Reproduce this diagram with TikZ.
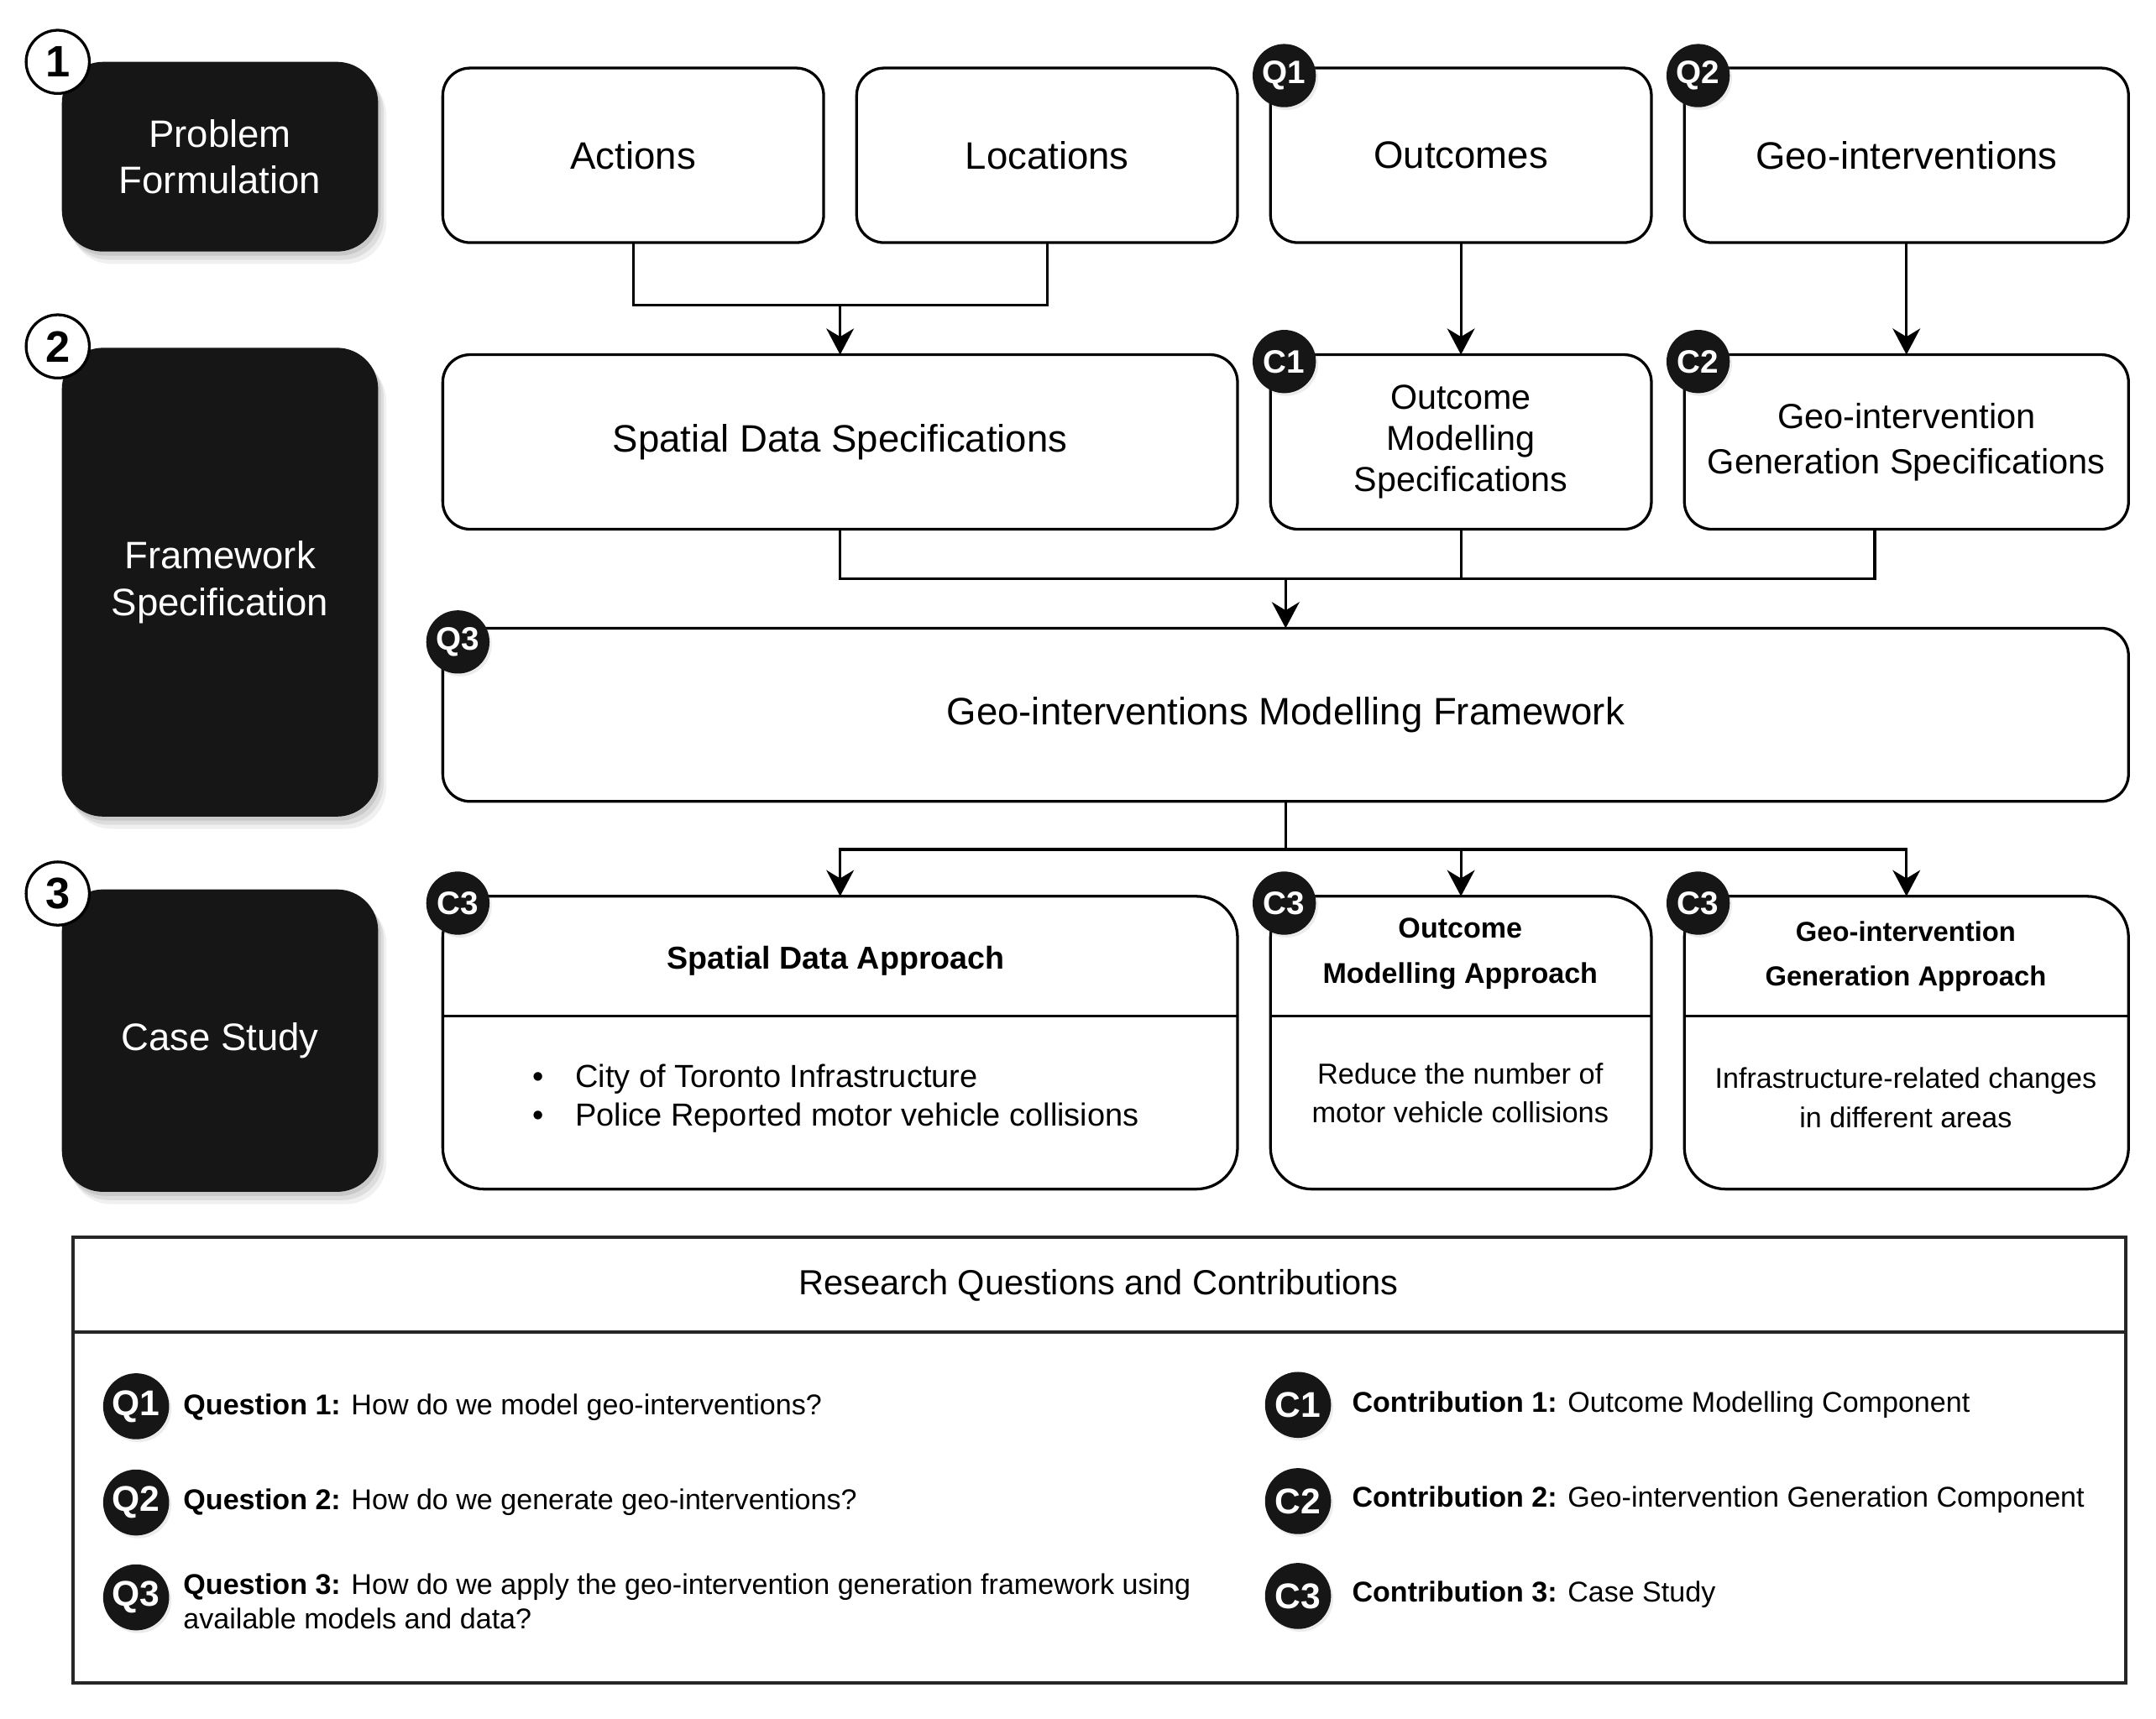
\documentclass[tikz,border=0pt]{standalone}
\usepackage{fontspec}
\setmainfont{Liberation Sans}
\usetikzlibrary{arrows.meta,shadows}
\definecolor{boxblack}{HTML}{161616}
\begin{document}
\begin{tikzpicture}[x=0.5pt,y=-0.5pt,
  wbox/.style={draw=black, line width=1pt, rounded corners=10pt, fill=white, inner sep=0pt, outer sep=0pt, align=center, font=\fontsize{13.9}{17}\selectfont},
  cbox/.style={wbox, rounded corners=15pt},
  bbox/.style={fill=boxblack, rounded corners=15pt, text=white, inner sep=0pt, outer sep=0pt, align=center, font=\fontsize{13.9}{17}\selectfont,
    drop shadow={shadow xshift=1pt, shadow yshift=-1.5pt, opacity=0.09, fill=black},
    drop shadow={shadow xshift=2pt, shadow yshift=-3pt, opacity=0.08, fill=black},
    drop shadow={shadow xshift=3pt, shadow yshift=-4.5pt, opacity=0.06, fill=black}},
  numc/.style={circle, draw=black, line width=1pt, fill=white, minimum size=23pt, inner sep=0pt, font=\bfseries\fontsize{16}{16}\selectfont},
  badge/.style={circle, fill=boxblack, text=white, minimum size=23pt, inner sep=0pt, font=\bfseries\fontsize{11.8}{12}\selectfont, drop shadow={shadow xshift=0.8pt, shadow yshift=-1pt, opacity=0.15}},
  lbadge/.style={badge, minimum size=24pt, font=\bfseries\fontsize{13}{13}\selectfont},
  conn/.style={draw=black, line width=1pt},
  arr/.style={conn, -{Stealth[length=9.5pt, width=10pt, inset=3pt]}},
  legtxt/.style={anchor=west, inner sep=0pt, align=left, font=\fontsize{10.4}{12.5}\selectfont},
]
\useasboundingbox (0,0) rectangle (1568,1250.4);

% left black column
\node[bbox, minimum width=115pt, minimum height=69pt] (pf) at (160,114) {Problem\\Formulation};
\node[bbox, minimum width=115pt, minimum height=170.5pt] (fs) at (160,423.5) {Framework\\Specification};
\node[bbox, minimum width=115pt, minimum height=110pt] (cs) at (160,757) {Case Study};
\node[numc] (n1) at (42,45) {1};
\node[numc] (n2) at (42,252) {2};
\node[numc] (n3) at (42,650) {3};

% top row
\node[wbox, minimum width=138.5pt, minimum height=63.5pt] (act) at (460.5,113) {Actions};
\node[wbox, minimum width=138.5pt, minimum height=63.5pt] (loc) at (761.5,113) {Locations};
\node[wbox, minimum width=138.5pt, minimum height=63.5pt] (out) at (1062.5,113) {Outcomes};
\node[wbox, minimum width=161.5pt, minimum height=63.5pt] (geo) at (1386.5,113) {Geo-interventions};

% second row
\node[wbox, minimum width=289pt, minimum height=63.5pt] (sds) at (611,321.5) {Spatial Data Specifications};
\node[wbox, minimum width=138.5pt, minimum height=63.5pt, font=\fontsize{12.6}{15}\selectfont] (oms) at (1062.5,321.5) {Outcome\\Modelling\\Specifications};
\node[wbox, minimum width=161.5pt, minimum height=63.5pt, font=\fontsize{12.7}{16.5}\selectfont] (ggs) at (1386.5,321.5) {Geo-intervention\\Generation Specifications};

% framework
\node[wbox, minimum width=613pt, minimum height=63pt] (fw) at (935,520) {Geo-interventions Modelling Framework};

% third row
\node[cbox, minimum width=289pt, minimum height=106.5pt] (sda) at (611,758.5) {};
\node[cbox, minimum width=138.5pt, minimum height=106.5pt] (oma) at (1062.5,758.5) {};
\node[cbox, minimum width=161.5pt, minimum height=106.5pt] (gga) at (1386.5,758.5) {};
\coordinate (d1) at (0,739);
\draw[conn] (sda.west |- d1) -- (sda.east |- d1);
\draw[conn] (oma.west |- d1) -- (oma.east |- d1);
\draw[conn] (gga.west |- d1) -- (gga.east |- d1);
\node[font=\bfseries\fontsize{11.5}{14}\selectfont, inner sep=0pt] (sdah) at (608,699) {Spatial Data Approach};
\node[inner sep=0pt, align=left, anchor=west, font=\fontsize{11.6}{14}\selectfont] (sdab) at (387,799) {\makebox[15.5pt][l]{•}City of Toronto Infrastructure\\\makebox[15.5pt][l]{•}Police Reported motor vehicle collisions};
\node[font=\bfseries\fontsize{10.4}{16.5}\selectfont, inner sep=0pt, align=center] (omah) at (1062,693.5) {Outcome\\Modelling Approach};
\node[font=\fontsize{10.5}{14}\selectfont, inner sep=0pt, align=center] (omab) at (1062,795) {Reduce the number of\\motor vehicle collisions};
\node[font=\bfseries\fontsize{10}{16.2}\selectfont, inner sep=0pt, align=center] (ggah) at (1386,696) {Geo-intervention\\Generation Approach};
\node[font=\fontsize{10.4}{14.5}\selectfont, inner sep=0pt, align=center] (ggab) at (1386,798.5) {Infrastructure-related changes\\in different areas};

% connectors
\coordinate (j1) at (611,222);
\draw[conn] (act.south) |- (j1) -| (loc.south);
\draw[arr] (j1) -- (sds.north);
\draw[arr] (out.south) -- (oms.north);
\draw[arr] (geo.south) -- (ggs.north);
\coordinate (j2) at (935,421);
\draw[conn] (sds.south) |- (j2);
\draw[conn] (oms.south) |- (j2);
\draw[conn] ([xshift=-11.5pt]ggs.south) |- (j2);
\draw[arr] (j2) -- (fw.north);
\coordinate (j3) at (935,618);
\draw[conn] (fw.south) -- (j3);
\draw[arr] (j3) -| (sda.north);
\draw[arr] (j3) -| (oma.north);
\draw[arr] (j3) -| (gga.north);

% badges
\node[badge] (bq1) at (934,55) {Q1};
\node[badge] (bq2) at (1235,55) {Q2};
\node[badge] (bc1) at (934,263) {C1};
\node[badge] (bc2) at (1235,263) {C2};
\node[badge] (bq3) at (333,467) {Q3};
\node[badge] (bc3a) at (333,657) {C3};
\node[badge] (bc3b) at (934,657) {C3};
\node[badge] (bc3c) at (1235,657) {C3};

% legend box
\node[draw=black!85, line width=1.2pt, fill=white, minimum width=746.5pt, minimum height=162pt, inner sep=0pt, outer sep=0pt] (leg) at (799.5,1062) {};
\coordinate (d4) at (0,969);
\draw[draw=black!85, line width=1.2pt] (leg.west |- d4) -- (leg.east |- d4);
\node[font=\fontsize{12.7}{15}\selectfont, inner sep=0pt] (legt) at (799,935) {Research Questions and Contributions};

\node[lbadge] (lq1) at (99,1023) {Q1};
\node[lbadge] (lq2) at (99,1093) {Q2};
\node[lbadge] (lq3) at (99,1162) {Q3};
\node[lbadge] (lc1) at (944,1022) {C1};
\node[lbadge] (lc2) at (944,1092) {C2};
\node[lbadge] (lc3) at (944,1161) {C3};

\node[legtxt] (tq1) at (133,1024) {\textbf{Question 1:} How do we model geo-interventions?};
\node[legtxt] (tq2) at (133,1093) {\textbf{Question 2:} How do we generate geo-interventions?};
\node[legtxt] (tq3) at (133,1165) {\textbf{Question 3:} How do we apply the geo-intervention generation framework using\\available models and data?};
\node[legtxt] (tc1) at (983,1022) {\textbf{Contribution 1:} Outcome Modelling Component};
\node[legtxt] (tc2) at (983,1091) {\textbf{Contribution 2:} Geo-intervention Generation Component};
\node[legtxt] (tc3) at (983,1160) {\textbf{Contribution 3:} Case Study};
\end{tikzpicture}
\end{document}
